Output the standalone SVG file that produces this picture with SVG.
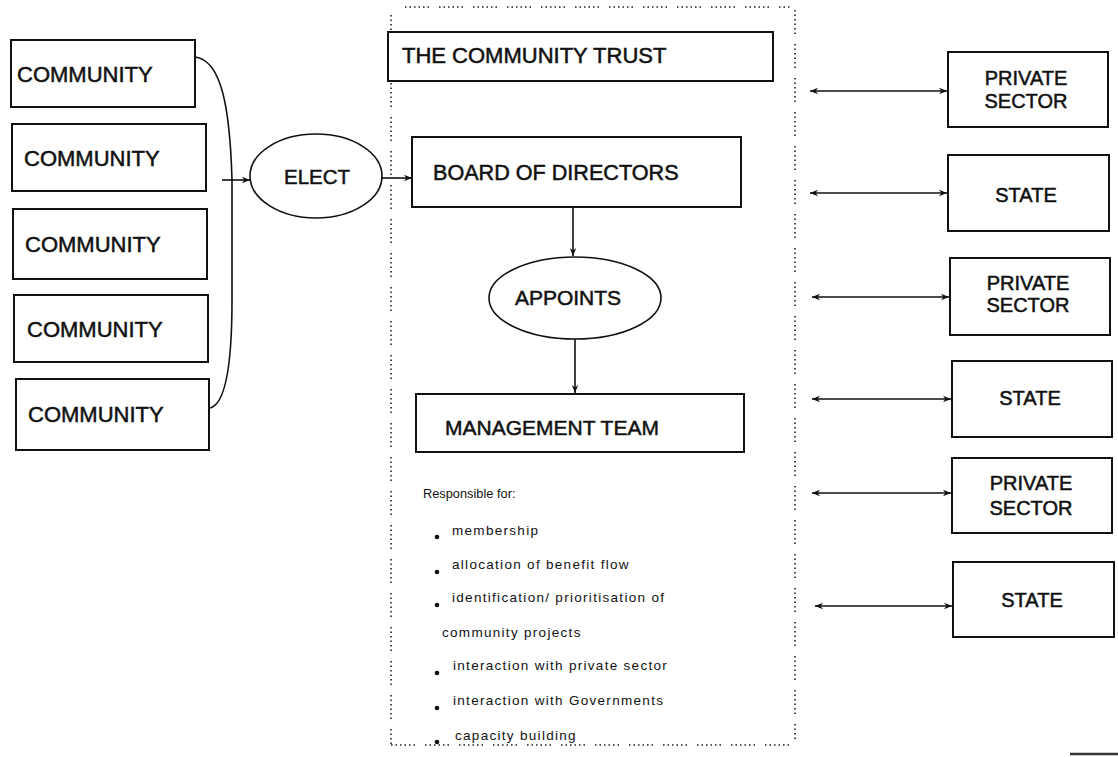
<svg xmlns="http://www.w3.org/2000/svg" width="1118" height="757" viewBox="0 0 1118 757">
<style>
.box{fill:#fff;stroke:#111;stroke-width:2}
.ell{fill:#fff;stroke:#111;stroke-width:1.6}
.t{font-family:"Liberation Sans",Arial,sans-serif;font-size:22px;fill:#111;stroke:#111;stroke-width:0.5}
.s{font-family:"Liberation Sans",Arial,sans-serif;font-size:13.5px;fill:#111;letter-spacing:1.3px}
.c{stroke:#111;stroke-width:1.6;fill:none}
.dot{stroke:#222;stroke-width:1.6;fill:none;stroke-dasharray:1.5 3 1.5 3 1.5 3 1.5 3 1.5 3 1.5 10}
</style>
<defs>
<marker id="ah" viewBox="0 0 10 10" refX="10" refY="5" markerWidth="8" markerHeight="8" markerUnits="userSpaceOnUse" orient="auto-start-reverse">
<path d="M0,1 L10,5 L0,9 L3,5 Z" fill="#111"/>
</marker>
</defs>
<rect width="1118" height="757" fill="#fff"/>

<g id="trust-border">
<path class="dot" d="M405,7 L790,7"/>
<path class="dot" d="M391,15 L391,745"/>
<path class="dot" d="M795,10 L795,740"/>
<path class="dot" d="M391,745 L795,745"/>
</g>

<g id="community1"><rect class="box" x="11" y="40" width="184" height="67"/><text class="t" x="17" y="82">COMMUNITY</text></g>
<g id="community2"><rect class="box" x="12" y="124" width="194" height="67"/><text class="t" x="24" y="166">COMMUNITY</text></g>
<g id="community3"><rect class="box" x="13" y="209" width="194" height="70"/><text class="t" x="25" y="252">COMMUNITY</text></g>
<g id="community4"><rect class="box" x="14" y="295" width="194" height="67"/><text class="t" x="27" y="337">COMMUNITY</text></g>
<g id="community5"><rect class="box" x="16" y="379" width="193" height="71"/><text class="t" x="28" y="422">COMMUNITY</text></g>

<g id="elect"><ellipse class="ell" cx="316" cy="176" rx="66" ry="42"/><text class="t" x="317" y="184" text-anchor="middle" style="font-size:20.5px">ELECT</text></g>

<g id="trust"><rect class="box" x="388" y="32" width="385" height="49"/><text class="t" x="402" y="63">THE COMMUNITY TRUST</text></g>
<g id="board"><rect class="box" x="412" y="137" width="329" height="70"/><text class="t" x="433" y="180" style="font-size:21.6px">BOARD OF DIRECTORS</text></g>
<g id="appoints"><ellipse class="ell" cx="575" cy="298" rx="86" ry="41"/><text class="t" x="568" y="305" text-anchor="middle" style="font-size:21px">APPOINTS</text></g>
<g id="management"><rect class="box" x="416" y="394" width="328" height="58"/><text class="t" x="445" y="435" style="font-size:21px">MANAGEMENT TEAM</text></g>

<g id="responsibilities">
<text class="s" x="423" y="498" style="font-size:12.8px;letter-spacing:0px">Responsible for:</text>
<g fill="#111"><circle cx="437" cy="537" r="2.3"/><circle cx="437" cy="572" r="2.3"/><circle cx="437" cy="605" r="2.3"/><circle cx="437" cy="673" r="2.3"/><circle cx="437" cy="708" r="2.3"/><circle cx="437" cy="742" r="2.3"/></g>
<text class="s" x="452" y="535">membership</text>
<text class="s" x="452" y="569">allocation of benefit flow</text>
<text class="s" x="452" y="602">identification/ prioritisation of</text>
<text class="s" x="442" y="637">community projects</text>
<text class="s" x="453" y="670">interaction with private sector</text>
<text class="s" x="453" y="705">interaction with Governments</text>
<text class="s" x="455" y="740">capacity building</text>
</g>

<g id="private1"><rect class="box" x="948" y="52" width="160" height="75"/><text class="t" x="1026" y="85" text-anchor="middle" style="font-size:20px">PRIVATE</text><text class="t" x="1026" y="108" text-anchor="middle" style="font-size:20px">SECTOR</text></g>
<g id="state1"><rect class="box" x="948" y="155" width="161" height="76"/><text class="t" x="1026" y="202" text-anchor="middle" style="font-size:20px">STATE</text></g>
<g id="private2"><rect class="box" x="950" y="258" width="160" height="77"/><text class="t" x="1028" y="290" text-anchor="middle" style="font-size:20px">PRIVATE</text><text class="t" x="1028" y="312" text-anchor="middle" style="font-size:20px">SECTOR</text></g>
<g id="state2"><rect class="box" x="952" y="361" width="160" height="76"/><text class="t" x="1030" y="405" text-anchor="middle" style="font-size:20px">STATE</text></g>
<g id="private3"><rect class="box" x="952" y="458" width="160" height="75"/><text class="t" x="1031" y="490" text-anchor="middle" style="font-size:20px">PRIVATE</text><text class="t" x="1031" y="515" text-anchor="middle" style="font-size:20px">SECTOR</text></g>
<g id="state3"><rect class="box" x="953" y="562" width="161" height="75"/><text class="t" x="1032" y="607" text-anchor="middle" style="font-size:20px">STATE</text></g>

<g id="connectors">
<path class="c" d="M195,57 C222,60 230,110 232,180 L232,300 C232,360 226,404 210,408"/>
<path class="c" d="M222,180 L250,180" marker-end="url(#ah)"/>
<path class="c" d="M382,178 L412,178" marker-end="url(#ah)"/>
<path class="c" d="M573,207 L573,256" marker-end="url(#ah)"/>
<path class="c" d="M575,339 L575,393" marker-end="url(#ah)"/>
<path class="c" d="M810,91 L947,91" marker-start="url(#ah)" marker-end="url(#ah)"/>
<path class="c" d="M810,193 L947,193" marker-start="url(#ah)" marker-end="url(#ah)"/>
<path class="c" d="M812,297 L949,297" marker-start="url(#ah)" marker-end="url(#ah)"/>
<path class="c" d="M812,399 L951,399" marker-start="url(#ah)" marker-end="url(#ah)"/>
<path class="c" d="M812,493 L951,493" marker-start="url(#ah)" marker-end="url(#ah)"/>
<path class="c" d="M815,606 L952,606" marker-start="url(#ah)" marker-end="url(#ah)"/>
</g>
<path d="M1070,754 L1118,754" stroke="#333" stroke-width="2.5"/>
</svg>
